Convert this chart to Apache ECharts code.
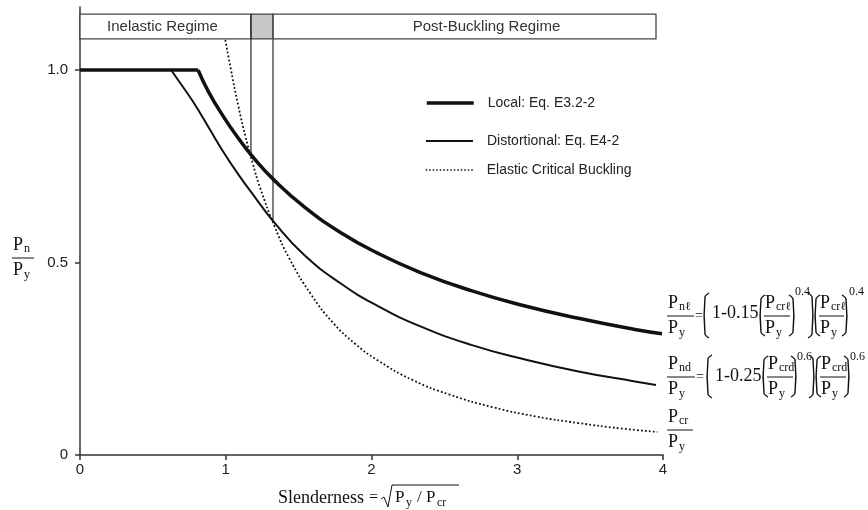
<!DOCTYPE html>
<html>
<head>
<meta charset="utf-8">
<script src="https://cdn.jsdelivr.net/npm/echarts@6/dist/echarts.min.js"></script>
<style>
html, body { margin: 0; padding: 0; background: #fff; }
#chart { width: 868px; height: 510px; }
</style>
</head>
<body>
<div id="chart"></div>
<script>
// values: [slenderness, Pn/Py]
const localFlat = [[0, 1.0], [0.810, 1.0]];
const localCurve = [[0.810, 1.0], [0.881, 0.944], [0.984, 0.879], [1.086, 0.823], [1.186, 0.774], [1.337, 0.712],
  [1.537, 0.645], [1.787, 0.578], [2.038, 0.525], [2.336, 0.474], [2.684, 0.427], [3.033, 0.389],
  [3.420, 0.355], [3.807, 0.326], [3.993, 0.315]];
const distFlat = [[0, 1.0], [0.625, 1.0]];
const distCurve = [[0.625, 1.0], [0.673, 0.974], [0.777, 0.917], [0.881, 0.852], [0.984, 0.787], [1.086, 0.729],
  [1.186, 0.677], [1.337, 0.602], [1.537, 0.520], [1.787, 0.446], [2.038, 0.388], [2.336, 0.334],
  [2.684, 0.286], [3.033, 0.250], [3.420, 0.217], [3.807, 0.191], [3.952, 0.182]];
const elastic = [[0.997, 1.078], [1.036, 1.0], [1.086, 0.907], [1.136, 0.826], [1.186, 0.756], [1.236, 0.694],
  [1.337, 0.592], [1.437, 0.510], [1.587, 0.416], [1.737, 0.343], [1.887, 0.289], [2.038, 0.247],
  [2.286, 0.194], [2.535, 0.157], [2.834, 0.124], [3.129, 0.100], [3.420, 0.083], [3.710, 0.069], [3.962, 0.060]];
// regime limits (vertical lines) and the regime band at the top
const limitLeft = [[1.173, 1.145], [1.173, 0.778]];
const limitRight = [[1.324, 1.145], [1.324, 0.607]];
const bandY = [1.081, 1.145];
const bandX = [0, 1.173, 1.324, 3.952];
const regimeNames = ['Inelastic Regime', 'Post-Buckling Regime'];
const yTicks = [0, 0.5, 1.0];
const legendNames = ['Local: Eq. E3.2-2', 'Distortional: Eq. E4-2', 'Elastic Critical Buckling'];

const serif = '"Liberation Serif", "DejaVu Serif", serif';
const sans = '"Liberation Sans", Arial, sans-serif';
const ink = '#111';

// small helpers for the typeset formulas
function txt(x, y, s, size, align) {
  return { type: 'text', x: x, y: y, silent: true,
    style: { text: s, fill: ink, font: size + 'px ' + serif, textAlign: align || 'left', textVerticalAlign: 'middle' } };
}
function hline(x1, x2, y) {
  return { type: 'line', silent: true, shape: { x1: x1, y1: y, x2: x2, y2: y }, style: { stroke: ink, lineWidth: 1 } };
}
function bracket(x, top, bottom, open) {
  const d = open ? 4 : -4;
  return { type: 'polyline', silent: true,
    shape: { points: [[x + d, top], [x, top + 4], [x, bottom - 4], [x + d, bottom]], smooth: 0.3 },
    style: { stroke: ink, lineWidth: 1.4, fill: null } };
}
function frac(x, w, yBar, numSub, denSub) {
  return [
    txt(x + 1, yBar - 13, 'P', 18), txt(x + 12, yBar - 9, numSub, 12),
    hline(x, x + w, yBar),
    txt(x + 1, yBar + 12, 'P', 18), txt(x + 12, yBar + 17, denSub, 12)
  ];
}

let graphics = [];
// y axis name
graphics = graphics.concat(frac(12, 22, 258, 'n', 'y'));
// equation 1
graphics = graphics.concat(frac(667, 27, 316, 'nℓ', 'y'));
graphics.push(txt(695, 316, '=', 14), bracket(705, 293, 338, true), txt(712, 313, '1-0.15', 18),
  bracket(761, 295, 336, true));
graphics = graphics.concat(frac(764, 26, 316, 'crℓ', 'y'));
graphics.push(bracket(793, 295, 336, false), txt(795, 292, '0.4', 12), bracket(812, 293, 338, false),
  bracket(816, 295, 336, true));
graphics = graphics.concat(frac(819, 25, 316, 'crℓ', 'y'));
graphics.push(bracket(846, 295, 336, false), txt(849, 292, '0.4', 12));
// equation 2
graphics = graphics.concat(frac(667, 28, 377, 'nd', 'y'));
graphics.push(txt(696, 377, '=', 14), bracket(708, 355, 398, true), txt(715, 376, '1-0.25', 18),
  bracket(764, 356, 397, true));
graphics = graphics.concat(frac(767, 26, 377, 'crd', 'y'));
graphics.push(bracket(795, 356, 397, false), txt(797, 357, '0.6', 12), bracket(813, 355, 398, false),
  bracket(817, 356, 397, true));
graphics = graphics.concat(frac(820, 26, 377, 'crd', 'y'));
graphics.push(bracket(848, 356, 397, false), txt(850, 357, '0.6', 12));
// equation 3
graphics = graphics.concat(frac(667, 26, 430, 'cr', 'y'));
// x axis name
graphics.push(txt(278, 498, 'Slenderness', 18), txt(369, 498, '=', 16),
  { type: 'polyline', silent: true, shape: { points: [[381, 499], [384, 497], [388, 507], [392, 485], [459, 485]] },
    style: { stroke: ink, lineWidth: 1, fill: null } },
  txt(395, 498, 'P', 17), txt(406, 503, 'y', 12), txt(417, 498, '/', 17), txt(426, 498, 'P', 17), txt(437, 503, 'cr', 12));

const myChart = echarts.init(document.getElementById('chart'));

function curve(name, data, width, type, smooth) {
  return { name: name, type: 'line', data: data, symbol: 'none', smooth: smooth, silent: true,
    lineStyle: { color: ink, width: width, type: type }, itemStyle: { color: ink } };
}
function legendAt(name, top, width, type) {
  return { data: [name], left: 425, top: top, padding: 0, itemWidth: 47, itemHeight: 14, selectedMode: false,
    itemStyle: { opacity: 0 },
    lineStyle: { width: width, type: type, color: ink },
    textStyle: { fontFamily: sans, fontSize: 14, color: '#222', padding: [0, 0, 0, 9] } };
}

const option = {
  animation: false,
  backgroundColor: '#fff',
  grid: { left: 80, right: 205, top: 7, bottom: 55 },
  legend: [
    legendAt(legendNames[0], 96, 3.5, 'solid'),
    legendAt(legendNames[1], 134, 2, 'solid'),
    legendAt(legendNames[2], 163, 1.5, [1.5, 2])
  ],
  xAxis: {
    type: 'value', min: 0, max: 4, interval: 1,
    axisLine: { lineStyle: { color: '#333', width: 1.5 } },
    axisTick: { length: 5, lineStyle: { color: '#333', width: 1.5 } },
    splitLine: { show: false },
    axisLabel: { fontFamily: sans, fontSize: 15, color: '#222', margin: 7 }
  },
  yAxis: {
    type: 'value', min: 0, max: 1.1636,
    axisLine: { show: true, lineStyle: { color: '#333', width: 1.5 } },
    axisTick: { show: true, length: 5, customValues: yTicks, lineStyle: { color: '#333', width: 1.5 } },
    splitLine: { show: false },
    axisLabel: {
      fontFamily: sans, fontSize: 15, color: '#222', margin: 12, customValues: yTicks,
      formatter: function (v) { return v === 0 ? '0' : v === 0.5 ? '0.5' : v === 1 ? '1.0' : ''; }
    }
  },
  graphic: graphics,
  series: [
    {
      name: 'limits', type: 'line', data: limitLeft, symbol: 'none', silent: true,
      lineStyle: { color: '#333', width: 1.3 },
      markArea: {
        silent: true,
        itemStyle: { color: '#fff', borderColor: '#444', borderWidth: 1.3 },
        label: { show: true, position: 'inside', fontFamily: sans, fontSize: 15, color: '#333' },
        data: [
          [{ name: regimeNames[0], coord: [bandX[0], bandY[0]], label: { offset: [-3, 0] } }, { coord: [bandX[1], bandY[1]] }],
          [{ name: '', coord: [bandX[1], bandY[0]], itemStyle: { color: '#c8c8c8' } }, { coord: [bandX[2], bandY[1]] }],
          [{ name: regimeNames[1], coord: [bandX[2], bandY[0]], label: { offset: [22, 0] } }, { coord: [bandX[3], bandY[1]] }]
        ]
      }
    },
    { name: 'limits2', type: 'line', data: limitRight, symbol: 'none', silent: true, lineStyle: { color: '#555', width: 1.5 } },
    curve(legendNames[2], elastic, 1.8, [1.8, 2.2], 0.5),
    curve(legendNames[1], distFlat, 2, 'solid', false),
    curve(legendNames[1], distCurve, 2, 'solid', 0.5),
    curve(legendNames[0], localFlat, 3.5, 'solid', false),
    curve(legendNames[0], localCurve, 3.5, 'solid', 0.5)
  ]
};
myChart.setOption(option);
</script>
</body>
</html>
